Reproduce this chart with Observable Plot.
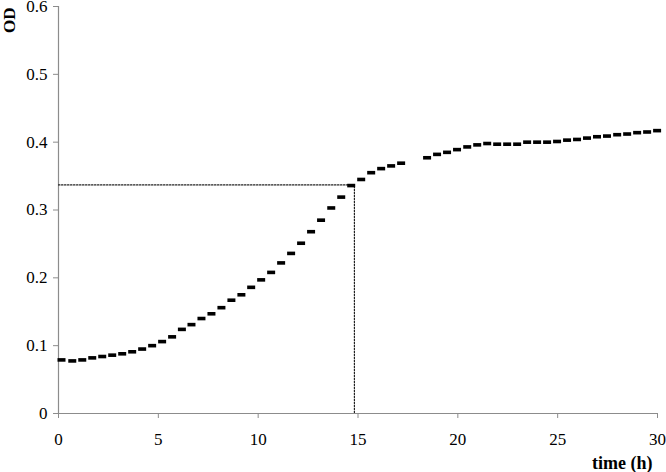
<!DOCTYPE html>
<html>
<head>
<meta charset="utf-8">
<script src="https://cdn.jsdelivr.net/npm/d3@7"></script>
<script src="https://cdn.jsdelivr.net/npm/@observablehq/plot@0.6"></script>
<style>
  html, body { margin: 0; padding: 0; background: #fff; }
  #chart { width: 666px; height: 472px; }
  #chart svg text { font-family: "Times New Roman", "Liberation Serif", "DejaVu Serif", Times, serif !important; }
</style>
</head>
<body>
<div id="chart"></div>
<script>
const times = [0.15, 0.69, 1.19, 1.69, 2.19, 2.69, 3.19, 3.69, 4.19, 4.69,
  5.19, 5.69, 6.18, 6.66, 7.16, 7.66, 8.16, 8.66, 9.16, 9.65,
  10.15, 10.65, 11.15, 11.65, 12.15, 12.65, 13.15, 13.66, 14.16, 14.66,
  15.16, 15.66, 16.16, 16.66, 17.16,
  18.46, 18.96, 19.46, 19.96, 20.47, 20.97, 21.47, 21.97, 22.47, 22.97,
  23.47, 23.97, 24.47, 24.97, 25.47, 25.97, 26.47, 26.97, 27.47, 27.98,
  28.48, 28.98, 29.48, 29.98];
const od = [0.079, 0.0775, 0.079, 0.082, 0.084, 0.086, 0.088, 0.091, 0.095, 0.100,
  0.106, 0.113, 0.124, 0.131, 0.140, 0.147, 0.156, 0.167, 0.175, 0.186,
  0.197, 0.208, 0.222, 0.236, 0.251, 0.268, 0.285, 0.303, 0.319, 0.336,
  0.345, 0.355, 0.361, 0.365, 0.369,
  0.377, 0.382, 0.385, 0.389, 0.393, 0.396, 0.398, 0.397, 0.397, 0.397,
  0.400, 0.400, 0.400, 0.401, 0.403, 0.404, 0.406, 0.408, 0.409, 0.411,
  0.412, 0.414, 0.415, 0.417];
const xTicks = [0, 5, 10, 15, 20, 25, 30];
const yTicks = [0, 0.1, 0.2, 0.3, 0.4, 0.5, 0.6];
const markTime = 14.82;
const markOD = 0.337;
const xLabel = "time (h)";
const yLabel = "OD";

const data = times.map((t, i) => ({t, od: od[i]}));
const guide = [
  {t: 0, od: markOD},
  {t: markTime, od: markOD},
  {t: markTime, od: 0}
];

const dash = {
  draw(context) {
    context.rect(-4, -1.8, 8, 3.6);
  }
};

const font = "Times New Roman, Liberation Serif, DejaVu Serif, serif";
const axisGray = "#8c8c8c";
const fmt = d => String(d);

const chart = Plot.plot({
  width: 666,
  height: 472,
  marginLeft: 58,
  marginRight: 9,
  marginTop: 6,
  marginBottom: 59,
  style: {fontFamily: font, fontSize: "18px", color: "#000", background: "#fff"},
  x: {domain: [0, 30], axis: null},
  y: {domain: [0, 0.6], axis: null},
  marks: [
    Plot.axisY(yTicks, {tickSize: 5, tickPadding: 6, stroke: axisGray, fill: "#000", label: null, fontSize: 17, fontFamily: font, tickFormat: fmt}),
    Plot.axisX(xTicks, {tickSize: 5, tickPadding: 14, stroke: axisGray, fill: "#000", label: null, fontSize: 17, fontFamily: font, tickFormat: fmt}),
    Plot.ruleX([0], {y1: 0, y2: 0.6, stroke: axisGray, strokeWidth: 1.2}),
    Plot.ruleY([0], {x1: 0, x2: 30, stroke: axisGray, strokeWidth: 1.2}),
    Plot.line(guide, {x: "t", y: "od", stroke: "#222", strokeWidth: 1.2, strokeDasharray: "1.5,1.5"}),
    Plot.dot(data, {x: "t", y: "od", symbol: dash, fill: "#000", stroke: "none", r: 4}),
    Plot.text([xLabel], {frameAnchor: "bottom-right", dx: -5, dy: 50, textAnchor: "end", lineAnchor: "middle", fontWeight: "bold", fontSize: 18, fontFamily: font, fill: "#000"}),
    Plot.text([yLabel], {frameAnchor: "top-left", dx: -49, dy: 1, rotate: -90, textAnchor: "end", lineAnchor: "middle", fontWeight: "bold", fontSize: 17, fontFamily: font, fill: "#000"})
  ]
});
document.getElementById("chart").appendChild(chart);
</script>
</body>
</html>
